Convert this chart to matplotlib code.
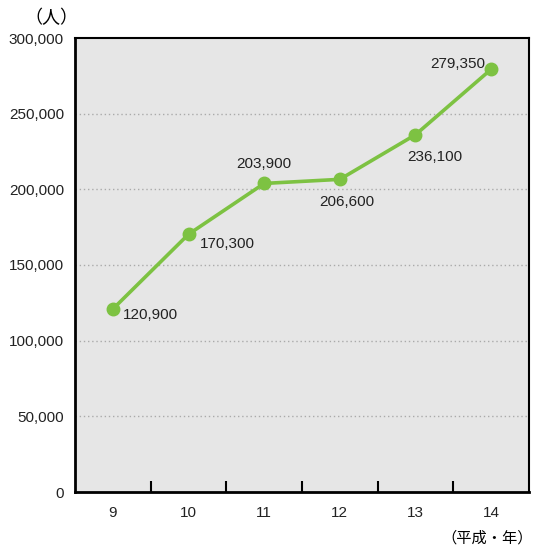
import matplotlib
matplotlib.use("Agg")
import matplotlib.pyplot as plt
from matplotlib.ticker import FuncFormatter, FixedLocator

plt.rcParams['font.family'] = ['Liberation Sans', 'Noto Sans CJK JP', 'DejaVu Sans']

years = ['9', '10', '11', '12', '13', '14']
visitors = [120900, 170300, 203900, 206600, 236100, 279350]
# label offsets (points) for each value annotation
label_offsets = [(7, -4), (8, -7), (0, 9), (5, -11), (14, -11), (-4, 4)]
label_align = [('left', 'center'), ('left', 'center'), ('center', 'bottom'),
               ('center', 'top'), ('center', 'top'), ('right', 'center')]

green = '#7dc242'

fig = plt.figure(figsize=(5.36, 5.51), dpi=100)
ax = fig.add_axes([75/536, 1 - 492/551, 454/536, 454/551])
ax.set_facecolor('#e6e6e6')

x = list(range(len(years)))
ax.plot(x, visitors, color=green, lw=2.6, marker='o', ms=9, mfc=green, mec=green, zorder=3)

for xi, v, off, (ha, va) in zip(x, visitors, label_offsets, label_align):
    ax.annotate(f'{v:,}', (xi, v), xytext=off, textcoords='offset points',
                ha=ha, va=va, fontsize=11, color='#222222')

ax.set_xlim(-0.5, len(years) - 0.5)
ax.set_ylim(0, 300000)
ax.set_yticks(range(0, 300001, 50000))
ax.yaxis.set_major_formatter(FuncFormatter(lambda v, p: f'{int(v):,}'))
ax.set_xticks(x)
ax.set_xticklabels(years)
ax.xaxis.set_minor_locator(FixedLocator([i + 0.5 for i in range(len(years) - 1)]))

ax.tick_params(axis='x', which='major', length=0, pad=10, labelsize=11, colors='#222222')
ax.tick_params(axis='x', which='minor', direction='in', length=8, width=1.5, color='black')
ax.tick_params(axis='y', which='major', direction='in', length=0, pad=8, labelsize=11, colors='#222222')

for yv in range(50000, 300000, 50000):
    ax.axhline(yv, color='#aaaaaa', lw=1, ls=(0, (1, 2)), zorder=1)

for s in ax.spines.values():
    s.set_color('black')
    s.set_linewidth(1.5)
ax.spines['left'].set_linewidth(2)
ax.spines['bottom'].set_linewidth(2)

fig.text(51/536, 1 - 18/551, '（人）', ha='center', va='center', fontsize=13,
         family=['Noto Sans CJK JP', 'DejaVu Sans'])
fig.text(487/536, 1 - 538/551, '（平成・年）', ha='center', va='center', fontsize=11,
         family=['Noto Sans CJK JP', 'DejaVu Sans'])

fig.savefig('out.png', dpi=100, facecolor='white')
